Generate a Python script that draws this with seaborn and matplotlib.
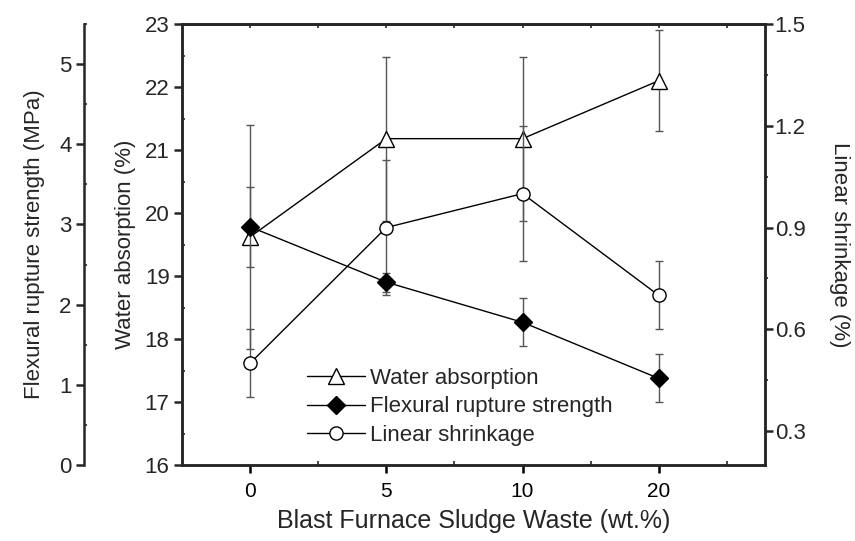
import matplotlib
matplotlib.use("Agg")
import matplotlib.pyplot as plt
import seaborn as sns
import numpy as np
import pandas as pd
from matplotlib.ticker import MultipleLocator, FixedLocator, NullFormatter, FormatStrFormatter

# ---- data ----
categories = ["0", "5", "10", "20"]
water = [19.62, 21.18, 21.18, 22.10]
water_err = [1.78, 1.30, 1.30, 0.80]
flex = [2.97, 2.28, 1.78, 1.08]
flex_err = [0.50, 0.12, 0.30, 0.30]
shrink = [0.50, 0.90, 1.00, 0.70]
shrink_err = [0.10, 0.20, 0.20, 0.10]

sns.set_theme(style="ticks")
plt.rcParams['font.family'] = ['Liberation Sans', 'DejaVu Sans']
plt.rcParams['axes.linewidth'] = 1.8

FS_XTICK = 15
FS_YTICK = 16
FS_XLAB = 18
FS_YLAB = 16
FS_LEG = 16

xpos = np.arange(len(categories))
df = pd.DataFrame({"x": xpos, "water": water, "flex": flex, "shrink": shrink})

fig = plt.figure(figsize=(8.55, 5.41), dpi=100)
ax = fig.add_axes([182 / 855, 1 - 465 / 541, 583 / 855, 441 / 541])
ax_s = ax.twinx()
ax_f = ax.twinx()

ecol = "#555555"
ekw = dict(fmt="none", ecolor=ecol, elinewidth=1.0, capsize=2.6, capthick=1.0, zorder=1)

# Water absorption
ax.errorbar(xpos, water, yerr=water_err, **ekw)
sns.lineplot(data=df, x="x", y="water", ax=ax, color="black", linewidth=1.0,
             marker="^", markersize=12, markerfacecolor="white",
             markeredgecolor="black", markeredgewidth=1.0, zorder=3,
             label="Water absorption", legend=False)

# Linear shrinkage
ax_s.errorbar(xpos, shrink, yerr=shrink_err, **ekw)
sns.lineplot(data=df, x="x", y="shrink", ax=ax_s, color="black", linewidth=1.0,
             marker="o", markersize=9.5, markerfacecolor="white",
             markeredgecolor="black", markeredgewidth=1.0, zorder=3,
             label="Linear shrinkage", legend=False)

# Flexural rupture strength
ax_f.errorbar(xpos, flex, yerr=flex_err, **ekw)
sns.lineplot(data=df, x="x", y="flex", ax=ax_f, color="black", linewidth=1.0,
             marker="D", markersize=9.5, markerfacecolor="black",
             markeredgecolor="black", markeredgewidth=1.0, zorder=3,
             label="Flexural rupture strength", legend=False)

# ---- axes limits ----
ax.set_xlim(-0.5, 3.78)
ax.set_ylim(16, 23)
ax_s.set_ylim(0.2, 1.5)
ax_f.set_ylim(0, 5.5)

# x axis
ax.set_xticks(xpos)
ax.set_xticklabels(categories)
ax.xaxis.set_minor_locator(FixedLocator([0.5, 1.5, 2.5, 3.5]))
ax.tick_params(axis="x", which="major", direction="out", length=6, width=1.8,
               labelsize=FS_XTICK, pad=6, top=False, colors="black")
ax.tick_params(axis="x", which="minor", direction="in", length=3, width=1.2, top=False)

top = ax.secondary_xaxis("top")
top.set_xticks(np.arange(0, 3.6, 0.5))
top.xaxis.set_major_formatter(NullFormatter())
top.tick_params(axis="x", direction="in", length=3, width=1.2)

# water axis (inner left)
ax.yaxis.set_major_locator(MultipleLocator(1))
ax.yaxis.set_minor_locator(MultipleLocator(0.5))
ax.tick_params(axis="y", which="major", direction="out", length=6, width=1.8,
               labelsize=FS_YTICK, pad=3, right=False)
ax.tick_params(axis="y", which="minor", direction="in", length=2.5, width=1.2, right=False)
ax.set_ylabel("Water absorption (%)", fontsize=FS_YLAB, labelpad=6)

# shrinkage axis (right)
ax_s.yaxis.set_major_locator(FixedLocator([0.3, 0.6, 0.9, 1.2, 1.5]))
ax_s.yaxis.set_major_formatter(FormatStrFormatter("%.1f"))
ax_s.yaxis.set_minor_locator(FixedLocator([0.45, 0.75, 1.05, 1.35]))
ax_s.tick_params(axis="y", which="major", direction="out", length=6, width=1.8,
                 labelsize=FS_YTICK, pad=1)
ax_s.tick_params(axis="y", which="minor", direction="out", length=2.5, width=1.2)
ax_s.set_ylabel("Linear shrinkage (%)", fontsize=FS_YLAB, rotation=270,
                va="bottom", labelpad=17)

# flexural axis (outer left)
for side in ["right", "top", "bottom"]:
    ax_f.spines[side].set_visible(False)
ax_f.spines["left"].set_visible(True)
ax_f.spines["left"].set_position(("axes", -98 / 583))
ax_f.spines["left"].set_linewidth(1.8)
ax_f.yaxis.set_ticks_position("left")
ax_f.yaxis.set_label_position("left")
ax_f.yaxis.set_major_locator(MultipleLocator(1))
ax_f.yaxis.set_minor_locator(MultipleLocator(0.5))
ax_f.tick_params(axis="y", which="major", direction="out", length=6, width=1.8,
                 labelsize=FS_YTICK, pad=3)
ax_f.tick_params(axis="y", which="minor", direction="in", length=2.5, width=1.2)
ax_f.set_ylabel("Flexural rupture strength (MPa)", fontsize=FS_YLAB, labelpad=10)

ax_s.set_xlabel("")
ax_f.set_xlabel("")
ax.set_xlabel("Blast Furnace Sludge Waste (wt.%)", fontsize=FS_XLAB, labelpad=6)

# legend
handles = []
labels = []
for a in (ax, ax_f, ax_s):
    h, l = a.get_legend_handles_labels()
    handles += h
    labels += l
leg = ax_f.legend(handles, labels, loc="upper left", bbox_to_anchor=(0.2, 0.24),
                  frameon=False, fontsize=FS_LEG, handlelength=2.6,
                  handletextpad=0.2, labelspacing=0.33, borderaxespad=0)

fig.savefig("out.png", dpi=100)
